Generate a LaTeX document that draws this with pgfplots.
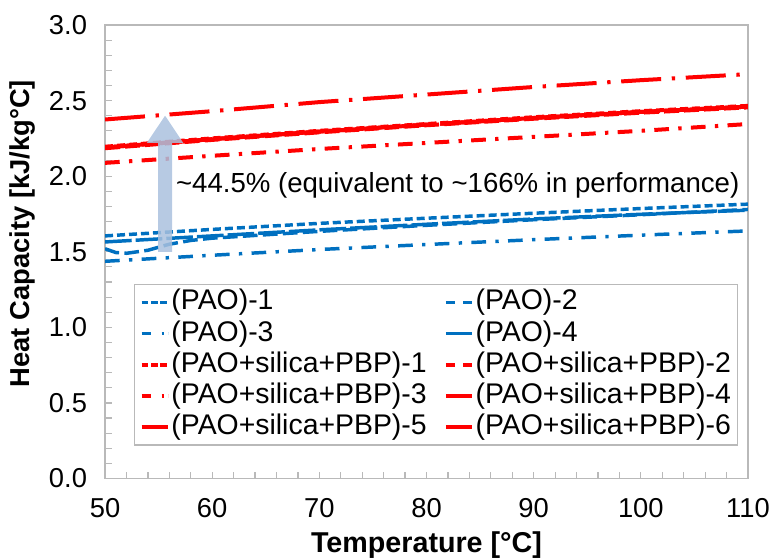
\documentclass[border=0pt]{standalone}
\usepackage{fontspec}
\setmainfont{Liberation Sans}
\usepackage{pgfplots}
\pgfplotsset{compat=1.18}
\definecolor{xblue}{RGB}{0,112,192}
\definecolor{xred}{RGB}{255,0,0}
\definecolor{axgray}{RGB}{185,185,185}
\definecolor{arrowc}{RGB}{170,193,222}
\begin{document}
\begin{tikzpicture}
\begin{axis}[
  at={(0,0)}, anchor=south west,
  scale only axis, width=482pt, height=340pt,
  xmin=50, xmax=110, ymin=0, ymax=3,
  xtick={50,60,70,80,90,100,110},
  ytick={0,0.5,1,1.5,2,2.5,3},
  minor x tick num=4, minor y tick num=4,
  tick align=inside, tick pos=left,
  major tick length=5pt, minor tick length=5pt,
  axis line style={axgray, line width=1pt},
  every tick/.style={axgray, line width=0.9pt},
  tick label style={font=\fontsize{20.5}{22}\selectfont},
  /pgf/number format/assume math mode=true,
  yticklabel style={xshift=-10pt, /pgf/number format/.cd, fixed, fixed zerofill, precision=1},
  xticklabel style={yshift=-11pt},
  xlabel={Temperature [°C]},
  ylabel={Heat Capacity [kJ/kg°C]},
  xlabel style={at={(axis description cs:0.5,-0.147)}, anchor=center, font=\bfseries\fontsize{21.5}{24}\selectfont},
  ylabel style={at={(axis description cs:-0.1286,0.54)}, anchor=center, font=\bfseries\fontsize{20.5}{24}\selectfont},
  legend columns=2,
  legend cell align=left,
  legend style={at={(0.045,0.429)}, anchor=north west, draw=axgray, line width=1pt,
    font=\fontsize{21.3}{23}\selectfont, inner xsep=4pt, inner ysep=3pt,
    nodes={inner sep=1pt, text height=15pt, text depth=4pt},
    row sep=2.3pt,
    /tikz/every even column/.append style={column sep=12pt}},
  legend image code/.code={\draw[#1] (0pt,0pt) -- (20pt,0pt);},
]
% ---- blue (PAO) ----
\addplot[forget plot, xblue, line width=2.6pt, dash pattern=on 6pt off 3pt] coordinates {
 (50,1.605) (60,1.648) (70,1.688) (80,1.722) (90,1.755) (100,1.786) (110,1.815)};
\addplot[forget plot, xblue, line width=2.6pt, dash pattern=on 11pt off 4pt] coordinates {
 (50,1.52) (51,1.495) (52,1.49) (54,1.51) (56,1.55) (58,1.575) (60,1.59) (70,1.635) (80,1.675) (90,1.712) (100,1.745) (110,1.78)};
\addplot[forget plot, xblue, line width=2.6pt, dash pattern=on 11pt off 7pt on 2.5pt off 7pt] coordinates {
 (50,1.437) (60,1.477) (70,1.515) (80,1.548) (90,1.58) (100,1.61) (110,1.638)};
\addplot[forget plot, xblue, line width=2.6pt, dash pattern=on 20pt off 3pt] coordinates {
 (50,1.565) (60,1.605) (70,1.645) (80,1.682) (90,1.717) (100,1.748) (110,1.775)};
% ---- red (PAO+silica+PBP) ----
\addplot[forget plot, xred, line width=3pt, dash pattern=on 6pt off 3pt] coordinates {
 (50,2.195) (60,2.25) (70,2.30) (80,2.345) (90,2.39) (100,2.43) (110,2.465)};
\addplot[forget plot, xred, line width=3pt, dash pattern=on 11pt off 4pt] coordinates {
 (50,2.185) (60,2.24) (70,2.29) (80,2.337) (90,2.38) (100,2.42) (110,2.455)};
\addplot[forget plot, xred, line width=3pt, dash pattern=on 11pt off 7pt on 2.5pt off 7pt] coordinates {
 (50,2.088) (60,2.135) (70,2.18) (80,2.22) (90,2.26) (100,2.30) (110,2.345)};
\addplot[forget plot, xred, line width=3pt, dash pattern=on 18pt off 3pt] coordinates {
 (50,2.19) (60,2.245) (70,2.295) (80,2.341) (90,2.385) (100,2.425) (110,2.46)};
\addplot[forget plot, xred, line width=3pt, dash pattern=on 24pt off 4pt] coordinates {
 (50,2.19) (60,2.245) (70,2.295) (80,2.341) (90,2.385) (100,2.425) (110,2.46)};
\addplot[forget plot, xred, line width=3pt, dash pattern=on 30pt off 8pt on 2.5pt off 8pt] coordinates {
 (50,2.375) (60,2.43) (70,2.49) (80,2.54) (90,2.59) (100,2.635) (110,2.675)};
% ---- arrow and annotation ----
\fill[arrowc, fill opacity=0.85] (axis cs:54.95,1.50) -- (axis cs:54.95,2.22) -- (axis cs:53.9,2.22)
  -- (axis cs:55.6,2.40) -- (axis cs:57.3,2.22) -- (axis cs:56.25,2.22) -- (axis cs:56.25,1.50) -- cycle;
\node[anchor=west, font=\fontsize{20.7}{24}\selectfont, inner sep=0pt] at (axis cs:56.6,1.94)
  {\textasciitilde44.5\% (equivalent to \textasciitilde166\% in performance)};
% ---- legend ----
\addlegendimage{xblue, line width=2.6pt, dash pattern=on 5pt off 2pt}
\addlegendentry{(PAO)-1}
\addlegendimage{xblue, line width=2.6pt, dash pattern=on 7pt off 6pt}
\addlegendentry{(PAO)-2}
\addlegendimage{xblue, line width=2.6pt, dash pattern=on 7pt off 8pt on 2pt off 3pt}
\addlegendentry{(PAO)-3}
\addlegendimage{xblue, line width=2.6pt}
\addlegendentry{(PAO)-4}
\addlegendimage{xred, line width=2.6pt, dash pattern=on 5pt off 2pt}
\addlegendentry{(PAO+silica+PBP)-1}
\addlegendimage{xred, line width=2.6pt, dash pattern=on 7pt off 6pt}
\addlegendentry{(PAO+silica+PBP)-2}
\addlegendimage{xred, line width=2.6pt, dash pattern=on 7pt off 8pt on 2pt off 3pt}
\addlegendentry{(PAO+silica+PBP)-3}
\addlegendimage{xred, line width=2.6pt}
\addlegendentry{(PAO+silica+PBP)-4}
\addlegendimage{xred, line width=2.6pt}
\addlegendentry{(PAO+silica+PBP)-5}
\addlegendimage{xred, line width=2.6pt}
\addlegendentry{(PAO+silica+PBP)-6}
\end{axis}
\pgfresetboundingbox
\useasboundingbox (-78.75pt,-61pt) rectangle (500.75pt,358.75pt);
\end{tikzpicture}
\end{document}
